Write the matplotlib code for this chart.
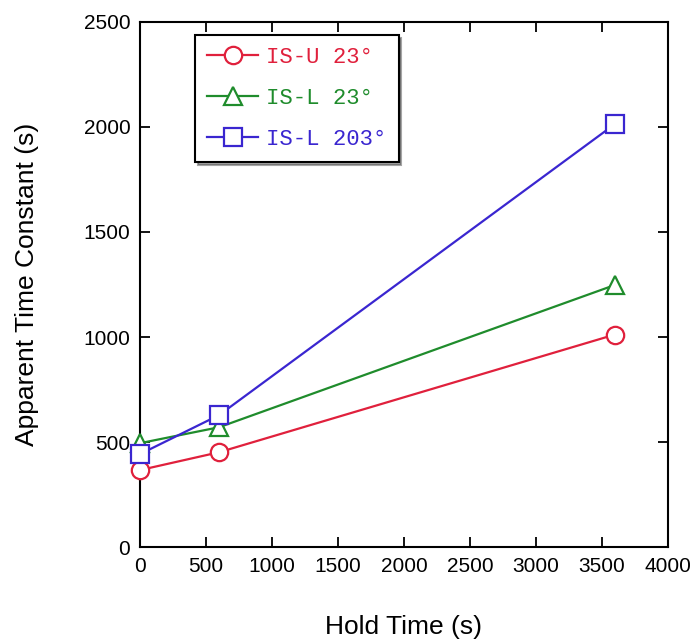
import numpy as np
from matplotlib import pyplot as plt

plt.rcParams['font.family'] = ['Liberation Sans', 'DejaVu Sans']

hold_time = [0, 600, 3600]
isu_23 = [367, 452, 1012]
isl_23 = [495, 571, 1248]
isl_203 = [443, 629, 2014]
labels = ["IS-U 23°", "IS-L 23°", "IS-L 203°"]
colors = ["#e0203c", "#1f8c2c", "#3a26d0"]
markers = ["o", "^", "s"]


def main():
    fig = plt.figure(figsize=(6.9, 6.4), dpi=100)
    ax = fig.add_axes([0.203, 0.145, 0.765, 0.821])
    series = [isu_23, isl_23, isl_203]
    for vals, lab, col, mk in zip(series, labels, colors, markers):
        ax.plot(hold_time, vals, color=col, lw=1.6, marker=mk, ms=12.5,
                mfc="white", mec=col, mew=1.6, label=lab, clip_on=False,
                zorder=3)
    ax.set_xlim(0, 4000)
    ax.set_ylim(0, 2500)
    ax.set_xticks(np.arange(0, 4001, 500))
    ax.set_yticks(np.arange(0, 2501, 500))
    ax.tick_params(direction="in", top=True, right=True, length=7,
                   width=1.3, labelsize=15, pad=7)
    for s in ax.spines.values():
        s.set_linewidth(1.5)
    ax.set_xlabel("Hold Time (s)", fontsize=19, labelpad=28)
    ax.set_ylabel("Apparent Time Constant (s)", fontsize=19, labelpad=32)
    leg = ax.legend(loc="upper left", bbox_to_anchor=(0.104, 0.975),
                    borderaxespad=0,
                    prop={'family': 'Liberation Mono', 'size': 16},
                    fancybox=False, shadow=True,
                    edgecolor="black", framealpha=1, handlelength=2.3,
                    handletextpad=0.35, borderpad=0.55, labelspacing=0.9)
    leg.get_frame().set_linewidth(1.5)
    for txt, col in zip(leg.get_texts(), colors):
        txt.set_color(col)
    plt.savefig("out.png")


if __name__ == "__main__":
    main()
